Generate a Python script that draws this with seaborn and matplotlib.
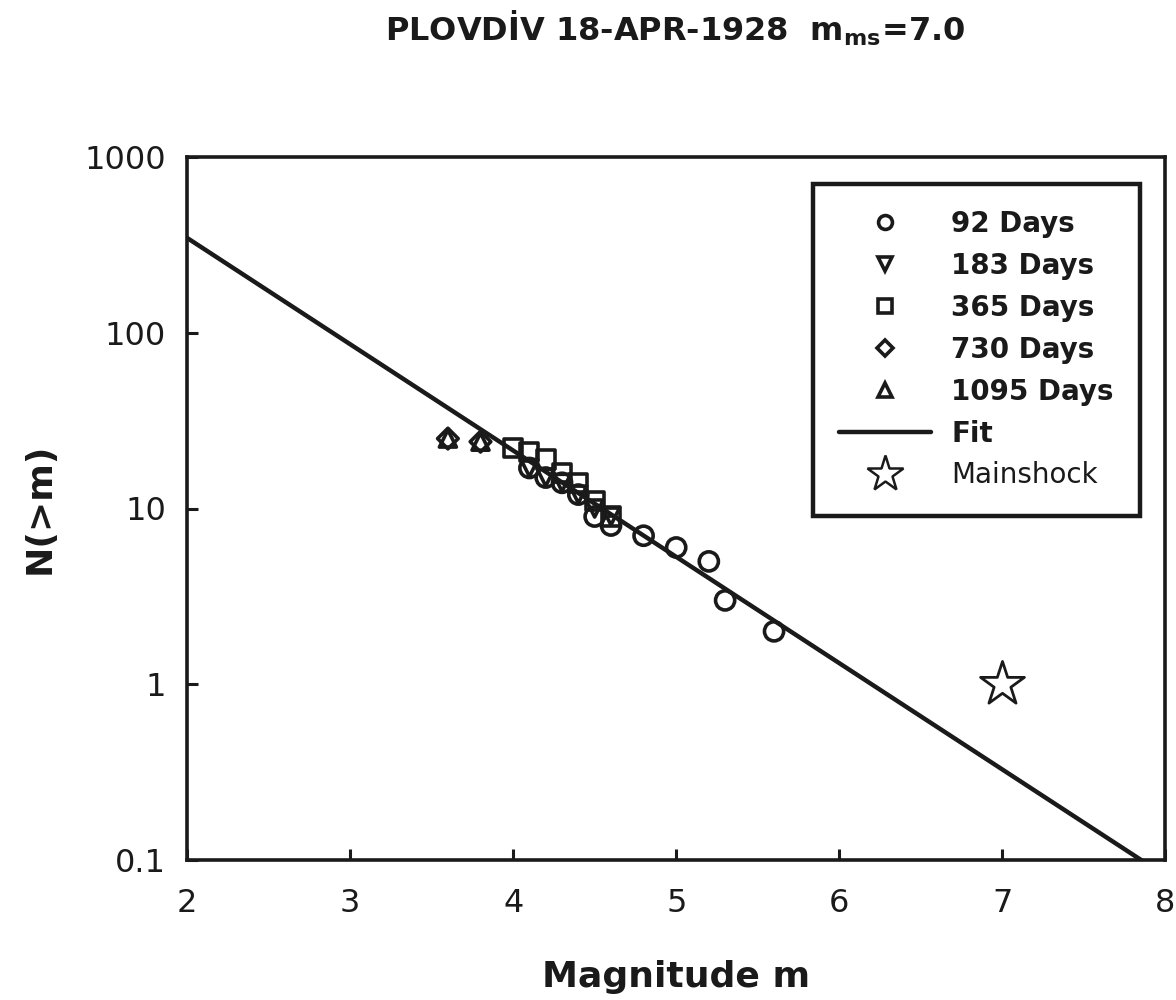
import numpy as np
import pandas as pd
import matplotlib
matplotlib.use("Agg")
import matplotlib.pyplot as plt
import seaborn as sns

# ---- data ----
m_92 = [4.1, 4.2, 4.3, 4.4, 4.5, 4.6, 4.8, 5.0, 5.2, 5.3, 5.6]
n_92 = [17, 15, 14, 12, 9, 8, 7, 6, 5, 3, 2]
m_183 = [4.1, 4.2, 4.3, 4.4, 4.5, 4.6]
n_183 = [17, 15, 14, 12, 10, 9]
m_365 = [4.0, 4.1, 4.2, 4.3, 4.4, 4.5, 4.6]
n_365 = [22, 21, 19, 16, 14, 11, 9]
m_730 = [3.6, 3.8]
n_730 = [25, 24]
m_1095 = [3.6, 3.8]
n_1095 = [25, 24]
main_m = [7.0]
main_n = [1.0]
fit_a = 3.75
fit_b = 0.605
fit_range = [2.0, 8.0]

sns.set_theme(style="ticks")
plt.rcParams['font.family'] = ['DejaVu Sans']

INK = "#1a1a1a"
fig = plt.figure(figsize=(11.76, 10), dpi=100)
ax = fig.add_axes([0.159, 0.14, 0.832, 0.703])

mfit = np.linspace(fit_range[0], fit_range[1], 200)
fit_df = pd.DataFrame({"m": mfit, "N": 10 ** (fit_a - fit_b * mfit)})

series = [
    (m_92, n_92, "o", "92 Days"),
    (m_183, n_183, "v", "183 Days"),
    (m_365, n_365, "s", "365 Days"),
    (m_730, n_730, "D", "730 Days"),
    (m_1095, n_1095, "^", "1095 Days"),
]
sizes = {"o": 190, "v": 150, "s": 170, "D": 110, "^": 150}
handles = []
for xs, ys, mk, lab in series:
    df = pd.DataFrame({"m": xs, "N": ys})
    sns.scatterplot(data=df, x="m", y="N", marker=mk, s=sizes[mk],
                    facecolor="none", edgecolor=INK, linewidth=2.6,
                    ax=ax, zorder=3)
    handles.append(plt.Line2D([], [], marker=mk, linestyle="none",
                              markersize=10 if mk != "D" else 8,
                              markerfacecolor="none", markeredgecolor=INK,
                              markeredgewidth=2.6, label=lab))

sns.lineplot(data=fit_df, x="m", y="N", color=INK, linewidth=3.2, ax=ax, zorder=2)
handles.append(plt.Line2D([], [], color=INK, linewidth=3.2, label="Fit"))

main_df = pd.DataFrame({"m": main_m, "N": main_n})
sns.scatterplot(data=main_df, x="m", y="N", marker="*", s=1100,
                facecolor="white", edgecolor=INK, linewidth=2.0, ax=ax, zorder=4)
handles.append(plt.Line2D([], [], marker="*", linestyle="none", markersize=27,
                          markerfacecolor="white", markeredgecolor=INK,
                          markeredgewidth=1.8, label="Mainshock"))

ax.set_yscale("log")
ax.set_xlim(2, 8)
ax.set_ylim(0.1, 1000)
ax.set_xticks([2, 3, 4, 5, 6, 7, 8])
ax.set_xticklabels(["2", "3", "4", "5", "6", "7", "8"])
ax.set_yticks([0.1, 1, 10, 100, 1000])
ax.set_yticklabels(["0.1", "1", "10", "100", "1000"])
ax.minorticks_off()
ax.tick_params(axis="both", which="major", direction="in", length=8, width=2.2,
               labelsize=23, colors=INK)
ax.tick_params(axis="x", pad=20)
ax.tick_params(axis="y", pad=15)
for sp in ax.spines.values():
    sp.set_linewidth(2.6)
    sp.set_color(INK)
    sp.set_visible(True)

ax.set_xlabel("Magnitude m", fontsize=26, fontweight="bold", labelpad=30, color=INK)
ax.set_ylabel("N(>m)", fontsize=26, fontweight="bold", labelpad=20, color=INK)

fig.text(0.574, 0.972, r"PLOVDİV 18-APR-1928  m$_\mathregular{ms}$=7.0",
         ha="center", va="center", fontsize=23, fontweight="bold", color=INK)

leg = ax.legend(handles=handles, loc="upper right", bbox_to_anchor=(0.974, 0.962),
                fontsize=20, frameon=True, fancybox=False, edgecolor=INK,
                framealpha=1.0,
                handlelength=3.3, handletextpad=0.72, labelspacing=0.5,
                borderpad=0.95, borderaxespad=0)
leg.get_frame().set_linewidth(3.2)
for t in leg.get_texts():
    t.set_fontweight("bold")
    t.set_color(INK)
leg.get_texts()[-1].set_fontweight("normal")

fig.savefig("out.png", dpi=100)
